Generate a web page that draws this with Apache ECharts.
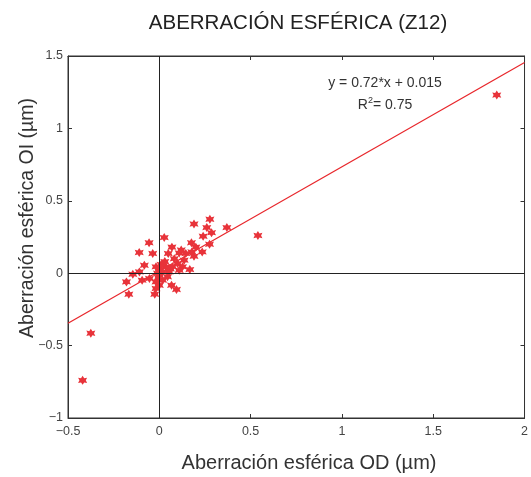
<!DOCTYPE html>
<html>
<head>
<meta charset="utf-8">
<script src="https://cdn.jsdelivr.net/npm/echarts@6/dist/echarts.min.js"></script>
<style>
  html, body { margin: 0; padding: 0; background: #fff; }
  #chart { width: 531px; height: 477px; }
</style>
</head>
<body>
<div id="chart"></div>
<script>
// OD (x) vs OI (y) spherical aberration
const odValues = [
  -0.42, -0.375, 0.54, 0.277, 0.19, 0.37, 0.26, 0.286, 0.24, 0.027,
  -0.056, -0.11, -0.036, 0.069, 0.049, 0.176, 0.2, 0.275, 0.235, 0.178,
  0.145, 0.109, 0.19, -0.082, -0.018, 0.036, 0.1, 0.127, 0.167, 0.109,
  0.054, 0.018, 0, -0.145, -0.109, -0.18, -0.094, -0.054, -0.018, 0,
  0.018, 0.045, -0.167, -0.025, 0.067, 0.094, -0.018, 0, -0.005, 0.082,
  0.072, 0.136, 1.848, 0.01, -0.01, 0.03, 0.06, 0.12
];
const oiValues = [
  -0.74, -0.415, 0.26, 0.373, 0.34, 0.315, 0.315, 0.28, 0.255, 0.246,
  0.21, 0.143, 0.136, 0.18, 0.136, 0.21, 0.18, 0.2, 0.147, 0.147,
  0.136, 0.14, 0.117, 0.055, 0.044, 0.044, 0.067, 0.044, 0.025, 0.02,
  0.009, 0.009, -0.014, -0.007, 0.009, -0.06, -0.048, -0.037, -0.06, -0.083,
  -0.048, -0.025, -0.145, -0.145, -0.083, -0.113, -0.106, 0.032, -0.03, 0.1,
  0.044, 0.09, 1.23, 0.06, 0.0, 0.08, 0.03, 0.16
];
// regression line end points (y = 0.72*x + 0.015)
const fitX = [-0.5, 2];
const fitY = [-0.345, 1.455];

const xTicks = { min: -0.5, max: 2, interval: 0.5 };
const yTicks = { min: -1, max: 1.5, interval: 0.5 };

const chart = echarts.init(document.getElementById('chart'));

const points = odValues.map((x, i) => [x, oiValues[i]]);
const fitLine = fitX.map((x, i) => [x, fitY[i]]);

const fontFamily = 'Liberation Sans, Arial, sans-serif';
const fmt = (v) => (v < 0 ? '\u2212' + Math.abs(v) : String(v));

// chunky asterisk-like marker
const star = 'path://M0,-10 L3,-4.5 L8.5,-6 L6,0 L8.5,6 L3,4.5 L0,10 L-3,4.5 L-8.5,6 L-6,0 L-8.5,-6 L-3,-4.5 Z';

const baseAxis = {
  axisLine: { onZero: false, lineStyle: { color: '#333', width: 1 } },
  axisTick: { inside: true, length: 4, lineStyle: { color: '#333' } },
  splitLine: { show: false },
};

chart.setOption({
  animation: false,
  title: {
    text: 'ABERRACIÓN ESFÉRICA (Z12)',
    left: 293,
    top: 8,
    textAlign: 'center',
    textStyle: { fontFamily, fontSize: 20.5, fontWeight: 'normal', color: '#222' },
  },
  grid: { left: 68, right: 3, top: 56, bottom: 59, show: true, borderColor: '#333', borderWidth: 1 },
  xAxis: [
    Object.assign({}, baseAxis, {
      type: 'value', position: 'bottom', ...xTicks,
      axisLabel: { fontFamily, fontSize: 12.5, color: '#444', margin: 7, formatter: fmt },
    }),
    Object.assign({}, baseAxis, {
      type: 'value', position: 'top', ...xTicks, axisLabel: { show: false },
    }),
  ],
  yAxis: [
    Object.assign({}, baseAxis, {
      type: 'value', position: 'left', ...yTicks,
      axisLabel: { fontFamily, fontSize: 12.5, color: '#444', margin: 5, formatter: fmt },
    }),
    Object.assign({}, baseAxis, {
      type: 'value', position: 'right', ...yTicks, axisLabel: { show: false },
    }),
  ],
  graphic: [
    {
      type: 'text', x: 309, y: 463,
      style: {
        text: 'Aberración esférica OD (µm)', font: '20px ' + fontFamily, fill: '#333',
        align: 'center', verticalAlign: 'middle',
      },
    },
    {
      type: 'text', x: 28, y: 218, rotation: Math.PI / 2,
      style: {
        text: 'Aberración esférica OI (µm)', font: '19.5px ' + fontFamily, fill: '#333',
        align: 'center', verticalAlign: 'middle',
      },
    },
    {
      type: 'text', x: 385, y: 83,
      style: {
        text: 'y = 0.72*x + 0.015', font: '14px ' + fontFamily, fill: '#333',
        align: 'center', verticalAlign: 'middle',
      },
    },
    {
      type: 'text', x: 385, y: 105,
      style: {
        text: 'R{s|2}= 0.75',
        font: '14px ' + fontFamily, fill: '#333',
        align: 'center', verticalAlign: 'middle',
        rich: { s: { fontSize: 9, verticalAlign: 'top', padding: [0, 0, 9, 0], fill: '#333' } },
      },
    },
  ],
  series: [
    {
      type: 'line',
      data: [],
      markLine: {
        silent: true, symbol: 'none', label: { show: false },
        lineStyle: { color: '#222', type: 'solid', width: 1 },
        data: [{ xAxis: 0 }, { yAxis: 0 }],
      },
    },
    {
      type: 'line',
      data: fitLine,
      showSymbol: false,
      lineStyle: { color: '#e8262b', width: 1.2 },
      z: 3,
    },
    {
      type: 'scatter',
      data: points,
      symbol: star,
      symbolSize: 9,
      itemStyle: { color: '#e8333a', opacity: 1 },
      z: 4,
    },
  ],
});
</script>
</body>
</html>
